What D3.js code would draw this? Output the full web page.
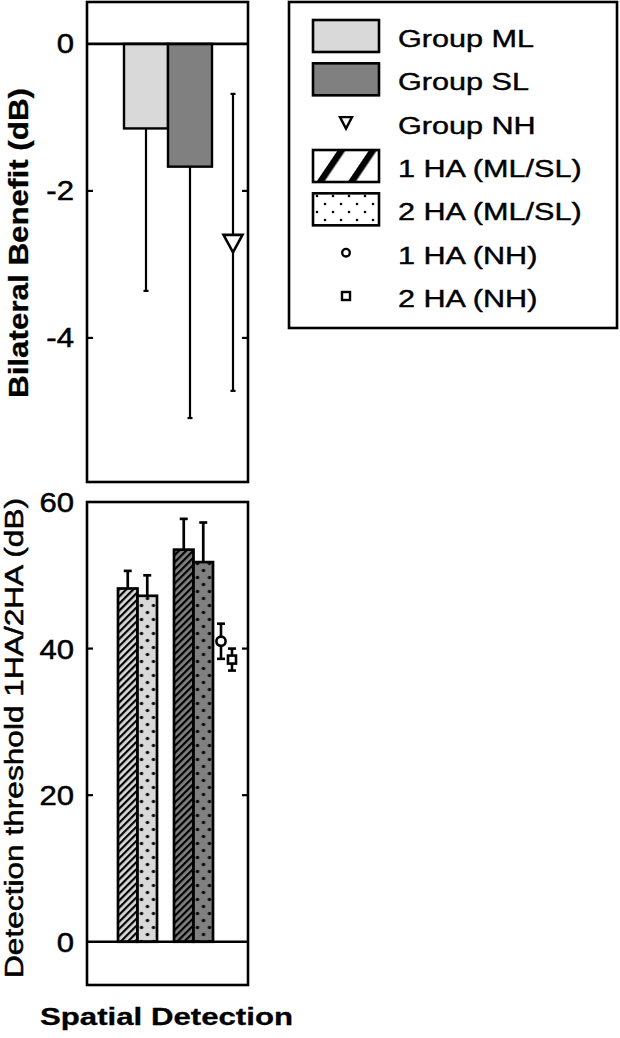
<!DOCTYPE html>
<html><head><meta charset="utf-8">
<script src="https://cdn.jsdelivr.net/npm/d3@7"></script>
<style>body{margin:0;background:#fff}svg{display:block}text{font-family:"Liberation Sans",Arial,sans-serif;fill:#000}</style>
</head><body><div id="chart"></div>
<script>
// ---- data ----
const benefitCats = ["Group ML", "Group SL", "Group NH"];
const benefitMean = [-1.15, -1.67, -2.70];
const benefitSD = [2.21, 3.42, 2.02];
const benefitTicks = [0, -2, -4];

const hearGroups = ["ML", "SL"];
const aidConds = ["1 HA", "2 HA"];
const thresholdML = [48.2, 47.2];
const thresholdSL = [53.5, 51.8];
const sdML = [2.4, 2.8];
const sdSL = [4.2, 5.4];
const thresholdNH = [41.0, 38.5];
const sdNH = [2.4, 1.5];
const thresholdTicks = [0, 20, 40, 60];

const legendLabels = ["Group ML", "Group SL", "Group NH", "1 HA (ML/SL)", "2 HA (ML/SL)", "1 HA (NH)", "2 HA (NH)"];

const topYLabel = "Bilateral Benefit (dB)";
const botYLabel = "Detection threshold 1HA/2HA (dB)";
const xLabel = "Spatial Detection";

// ---- setup ----
const W = 620, H = 1038;
const colML = "#d9d9d9", colSL = "#808080";
const svg = d3.select("#chart").append("svg").attr("width", W).attr("height", H);
const defs = svg.append("defs");

function stretch(sel, f) {
  sel.each(function () {
    const n = this.getComputedTextLength();
    d3.select(this).attr("textLength", n * f).attr("lengthAdjust", "spacingAndGlyphs");
  });
}
function heavy(sel, w) { sel.attr("stroke", "#000").attr("stroke-width", w); }

const left = 87, right = 248;
const top1 = 2, bot1 = 482;
const top2 = 502, bot2 = 985;

// ---- patterns ----
function hatch(id, fill, period, sw, angle) {
  const p = defs.append("pattern").attr("id", id).attr("patternUnits", "userSpaceOnUse")
    .attr("width", period).attr("height", period).attr("patternTransform", `rotate(${angle})`);
  p.append("rect").attr("width", period).attr("height", period).attr("fill", fill);
  p.append("rect").attr("width", sw).attr("height", period).attr("fill", "#000");
}
function dots(id, fill, w, h, r, x0) {
  const p = defs.append("pattern").attr("id", id).attr("patternUnits", "userSpaceOnUse")
    .attr("x", x0).attr("y", 0).attr("width", w).attr("height", h);
  p.append("rect").attr("width", w).attr("height", h).attr("fill", fill);
  p.append("circle").attr("cx", w / 4).attr("cy", h / 4).attr("r", r).attr("fill", "#000");
  p.append("circle").attr("cx", 3 * w / 4).attr("cy", 3 * h / 4).attr("r", r).attr("fill", "#000");
}

// ---- top panel ----
const y1 = d3.scaleLinear().domain([-5.96, 0.57]).range([bot1, top1]);
const x1 = d3.scaleBand().domain(benefitCats).range([124, 256]).paddingInner(0);
const g1 = svg.append("g");

const topBars = benefitCats.slice(0, 2).map((c, i) => ({ c, m: benefitMean[i], sd: benefitSD[i], fill: i === 0 ? colML : colSL }));
g1.selectAll("rect.bar").data(topBars).join("rect").attr("class", "bar")
  .attr("x", d => x1(d.c)).attr("width", x1.bandwidth())
  .attr("y", y1(0)).attr("height", d => y1(d.m) - y1(0))
  .attr("fill", d => d.fill).attr("stroke", "#000").attr("stroke-width", 2.4);
g1.selectAll("line.err").data(topBars).join("line").attr("class", "err")
  .attr("x1", d => x1(d.c) + x1.bandwidth() / 2).attr("x2", d => x1(d.c) + x1.bandwidth() / 2)
  .attr("y1", d => y1(d.m)).attr("y2", d => y1(d.m - d.sd)).attr("stroke", "#000").attr("stroke-width", 2.2);
g1.selectAll("line.cap").data(topBars).join("line").attr("class", "cap")
  .attr("x1", d => x1(d.c) + x1.bandwidth() / 2 - 2.5).attr("x2", d => x1(d.c) + x1.bandwidth() / 2 + 2.5)
  .attr("y1", d => y1(d.m - d.sd)).attr("y2", d => y1(d.m - d.sd)).attr("stroke", "#000").attr("stroke-width", 2.2);
const nh = { c: benefitCats[2], m: benefitMean[2], sd: benefitSD[2] };
const nx = x1(nh.c) + x1.bandwidth() / 2 - 1;
g1.append("line").attr("x1", nx).attr("x2", nx).attr("y1", y1(nh.m + nh.sd)).attr("y2", y1(nh.m - nh.sd))
  .attr("stroke", "#000").attr("stroke-width", 2.2);
[nh.m + nh.sd, nh.m - nh.sd].forEach(v => g1.append("line").attr("x1", nx - 2.5).attr("x2", nx + 2.5)
  .attr("y1", y1(v)).attr("y2", y1(v)).attr("stroke", "#000").attr("stroke-width", 2.2));
const ty = y1(nh.m);
g1.append("path").attr("d", `M${nx - 9.5},${ty - 7.5}L${nx + 9.5},${ty - 7.5}L${nx},${ty + 10}Z`)
  .attr("fill", "#fff").attr("stroke", "#000").attr("stroke-width", 2.6).attr("stroke-linejoin", "miter");
g1.append("line").attr("x1", left).attr("x2", right).attr("y1", y1(0)).attr("y2", y1(0)).attr("stroke", "#000").attr("stroke-width", 2.6);
benefitTicks.filter(t => t !== 0).forEach(t => {
  g1.append("line").attr("x1", left).attr("x2", left + 6).attr("y1", y1(t)).attr("y2", y1(t)).attr("stroke", "#000").attr("stroke-width", 2.2);
  g1.append("line").attr("x1", right - 6).attr("x2", right).attr("y1", y1(t)).attr("y2", y1(t)).attr("stroke", "#000").attr("stroke-width", 2.2);
});
g1.selectAll("text.tick").data(benefitTicks).join("text").attr("class", "tick")
  .attr("x", 74).attr("y", d => y1(d) + 9.5).attr("text-anchor", "end")
  .attr("font-size", 27).text(d => d).call(stretch, 1.15).call(heavy, 0.5);
g1.append("rect").attr("x", left).attr("y", top1).attr("width", right - left).attr("height", bot1 - top1)
  .attr("fill", "none").attr("stroke", "#000").attr("stroke-width", 2.6);
g1.append("text").attr("transform", `translate(28,243) rotate(-90)`).attr("text-anchor", "middle")
  .attr("font-size", 28).attr("font-weight", "bold").text(topYLabel)
  .attr("textLength", 310).attr("lengthAdjust", "spacingAndGlyphs").call(heavy, 0.3);

// ---- bottom panel ----
const y2 = d3.scaleLinear().domain([-5.9, 60]).range([bot2, top2]);
const xg = d3.scaleBand().domain(hearGroups).range([118, 213]).paddingInner(17 / 56).paddingOuter(0);
const xa = d3.scaleBand().domain(aidConds).range([0, xg.bandwidth()]);
const xnh = d3.scalePoint().domain(aidConds).range([xg("SL") + xg.bandwidth() + 8, xg("SL") + xg.bandwidth() + 19]);
const g2 = svg.append("g");

const botBars = [];
hearGroups.forEach((g, gi) => {
  const vals = gi === 0 ? thresholdML : thresholdSL;
  const sds = gi === 0 ? sdML : sdSL;
  const fill = gi === 0 ? colML : colSL;
  aidConds.forEach((a, ai) => {
    const x = xg(g) + xa(a);
    const id = `pat${gi}${ai}`;
    if (ai === 0) hatch(id, fill, 5, 2.2, 45);
    else dots(id, fill, 12, 14, 1.7, x + 1);
    botBars.push({ g, a, v: vals[ai], sd: sds[ai], x, id });
  });
});
g2.selectAll("rect.bar").data(botBars).join("rect").attr("class", "bar")
  .attr("x", d => d.x).attr("width", xa.bandwidth())
  .attr("y", d => y2(d.v)).attr("height", d => y2(0) - y2(d.v))
  .attr("fill", d => `url(#${d.id})`).attr("stroke", "#000").attr("stroke-width", 2.7);
g2.selectAll("line.err").data(botBars).join("line").attr("class", "err")
  .attr("x1", d => d.x + xa.bandwidth() / 2).attr("x2", d => d.x + xa.bandwidth() / 2)
  .attr("y1", d => y2(d.v)).attr("y2", d => y2(d.v + d.sd)).attr("stroke", "#000").attr("stroke-width", 2.7);
g2.selectAll("line.cap").data(botBars).join("line").attr("class", "cap")
  .attr("x1", d => d.x + xa.bandwidth() / 2 - 4).attr("x2", d => d.x + xa.bandwidth() / 2 + 4)
  .attr("y1", d => y2(d.v + d.sd)).attr("y2", d => y2(d.v + d.sd)).attr("stroke", "#000").attr("stroke-width", 2.7);

aidConds.forEach((a, i) => {
  const cx = xnh(a), v = thresholdNH[i], sd = sdNH[i];
  g2.append("line").attr("x1", cx).attr("x2", cx).attr("y1", y2(v + sd)).attr("y2", y2(v - sd)).attr("stroke", "#000").attr("stroke-width", 2.6);
  [v + sd, v - sd].forEach(e => g2.append("line").attr("x1", cx - 4).attr("x2", cx + 4).attr("y1", y2(e)).attr("y2", y2(e)).attr("stroke", "#000").attr("stroke-width", 2.6));
  if (i === 0) g2.append("circle").attr("cx", cx).attr("cy", y2(v)).attr("r", 4.6).attr("fill", "#fff").attr("stroke", "#000").attr("stroke-width", 2.6);
  else g2.append("rect").attr("x", cx - 4).attr("y", y2(v) - 4).attr("width", 8).attr("height", 8).attr("fill", "#fff").attr("stroke", "#000").attr("stroke-width", 2.6);
});

g2.append("line").attr("x1", left).attr("x2", right).attr("y1", y2(0)).attr("y2", y2(0)).attr("stroke", "#000").attr("stroke-width", 2.6);
thresholdTicks.filter(t => t !== 0 && t !== 60).forEach(t => {
  g2.append("line").attr("x1", left).attr("x2", left + 6).attr("y1", y2(t)).attr("y2", y2(t)).attr("stroke", "#000").attr("stroke-width", 2.2);
  g2.append("line").attr("x1", right - 6).attr("x2", right).attr("y1", y2(t)).attr("y2", y2(t)).attr("stroke", "#000").attr("stroke-width", 2.2);
});
g2.selectAll("text.tick").data(thresholdTicks).join("text").attr("class", "tick")
  .attr("x", 74).attr("y", d => y2(d) + 10).attr("text-anchor", "end")
  .attr("font-size", 27).text(d => d).call(stretch, 1.15).call(heavy, 0.5);
g2.append("rect").attr("x", left).attr("y", top2).attr("width", right - left).attr("height", bot2 - top2)
  .attr("fill", "none").attr("stroke", "#000").attr("stroke-width", 2.6);
g2.append("text").attr("transform", `translate(23,738) rotate(-90)`).attr("text-anchor", "middle")
  .attr("font-size", 25.5).text(botYLabel)
  .attr("textLength", 480).attr("lengthAdjust", "spacingAndGlyphs").call(heavy, 0.5);
svg.append("text").attr("x", 166.5).attr("y", 1025).attr("text-anchor", "middle")
  .attr("font-size", 24).attr("font-weight", "bold").text(xLabel)
  .attr("textLength", 253).attr("lengthAdjust", "spacingAndGlyphs").call(heavy, 0.3);

// ---- legend ----
hatch("legHatch", "#fff", 26, 6.5, 34);
dots("legDots", "#fff", 16, 16, 1.3, 313);
const lg = svg.append("g");
lg.append("rect").attr("x", 289).attr("y", 2).attr("width", 328).attr("height", 326)
  .attr("fill", "#fff").attr("stroke", "#000").attr("stroke-width", 2.6);
const ly = d3.scalePoint().domain(legendLabels).range([36, 296]);
const patchFill = { "Group ML": colML, "Group SL": colSL, "1 HA (ML/SL)": "url(#legHatch)", "2 HA (ML/SL)": "url(#legDots)" };
legendLabels.forEach(l => {
  const cy = ly(l), cx = 346;
  if (patchFill[l]) {
    lg.append("rect").attr("x", 313).attr("y", cy - 16).attr("width", 66).attr("height", 32)
      .attr("fill", patchFill[l]).attr("stroke", "#000").attr("stroke-width", 2.6);
  } else if (l === "Group NH") {
    lg.append("path").attr("d", `M${cx - 6},${cy - 5.5}L${cx + 6},${cy - 5.5}L${cx},${cy + 6}Z`)
      .attr("fill", "#fff").attr("stroke", "#000").attr("stroke-width", 2.4);
  } else if (l === "1 HA (NH)") {
    lg.append("circle").attr("cx", cx).attr("cy", cy).attr("r", 3.8).attr("fill", "#fff").attr("stroke", "#000").attr("stroke-width", 2.4);
  } else {
    lg.append("rect").attr("x", cx - 4).attr("y", cy - 4).attr("width", 8).attr("height", 8).attr("fill", "#fff").attr("stroke", "#000").attr("stroke-width", 2.4);
  }
  lg.append("text").attr("x", 398).attr("y", cy + 11).attr("font-size", 23).text(l).call(stretch, 1.33).call(heavy, 0.4);
});
</script></body></html>
